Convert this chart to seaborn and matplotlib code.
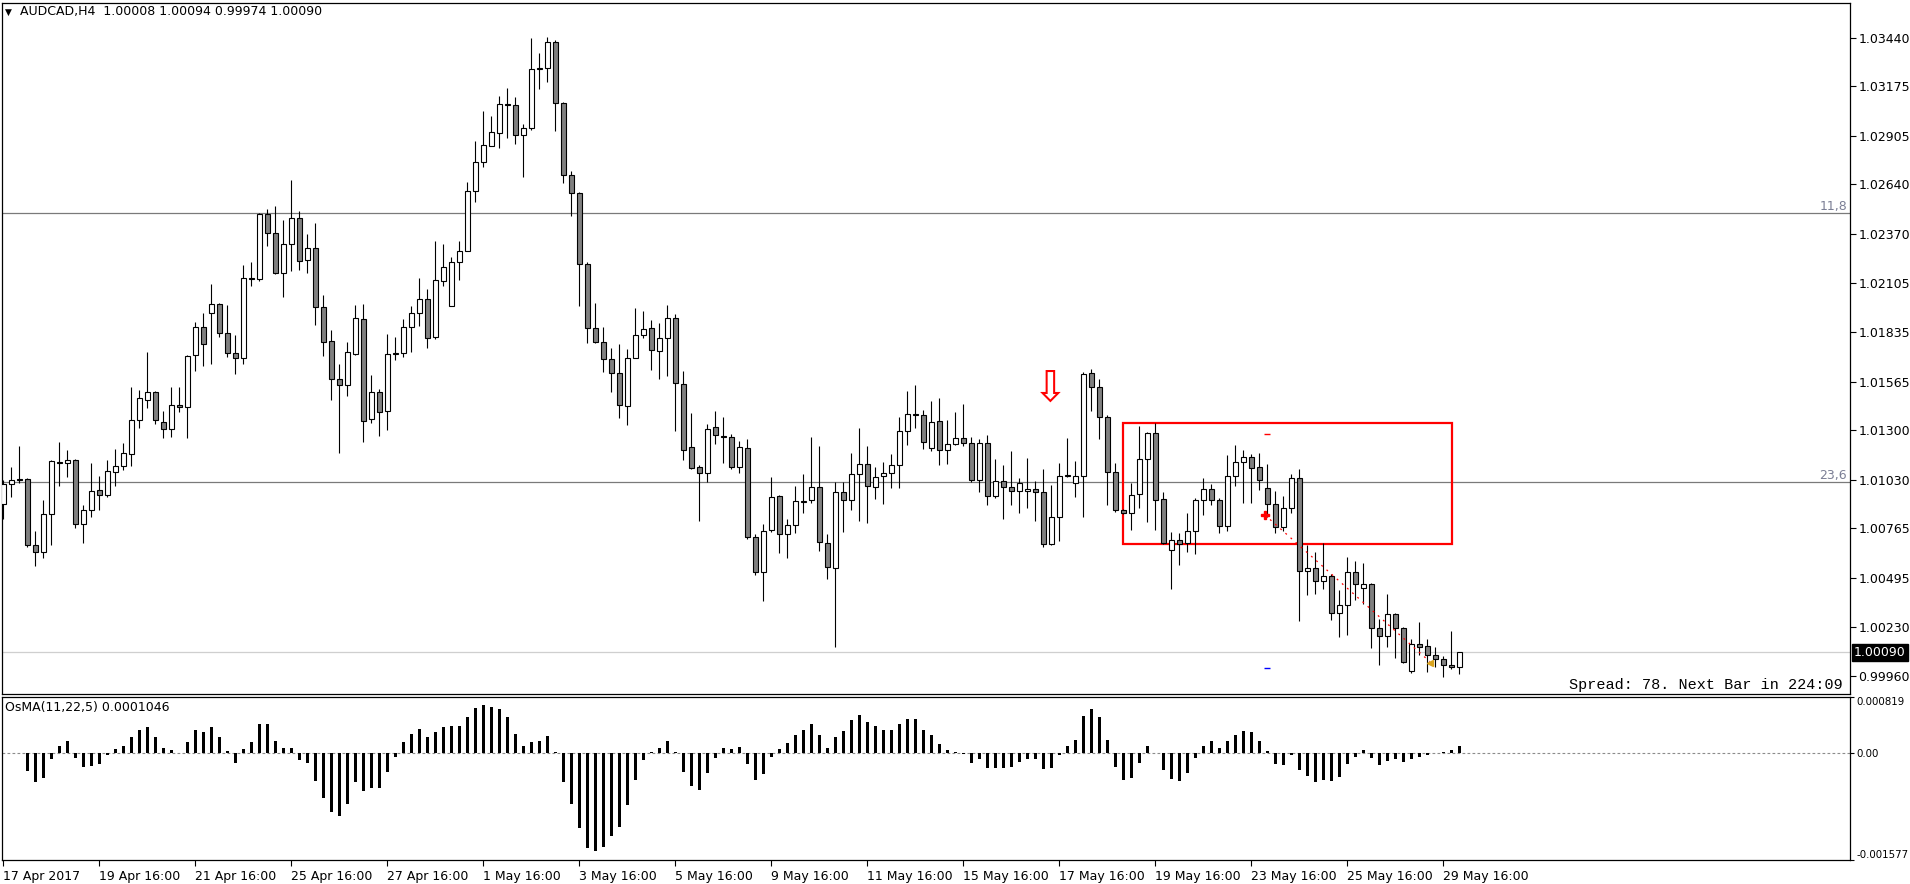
import numpy as np
import pandas as pd
import matplotlib
matplotlib.use("Agg")
import matplotlib.pyplot as plt
import matplotlib.transforms as mtransforms
from matplotlib.patches import Rectangle
import seaborn as sns

# ---------------- data ----------------
opens = [
    1.00898, 1.01007, 1.01034, 1.01034, 1.00674, 1.00636, 1.00843, 1.01125, 1.01121, 1.01137,
    1.00789, 1.00865, 1.00974, 1.00947, 1.01072, 1.01105, 1.01170, 1.01355, 1.01464, 1.01508,
    1.01344, 1.01306, 1.01437, 1.01426, 1.01710, 1.01862, 1.01939, 1.01988, 1.01830, 1.01721,
    1.01693, 1.02129, 1.02125, 1.02480, 1.02375, 1.02157, 1.02315, 1.02456, 1.02231, 1.02293,
    1.01971, 1.01786, 1.01579, 1.01546, 1.01715, 1.01906, 1.01361, 1.01508, 1.01408, 1.01718,
    1.01722, 1.01862, 1.01939, 1.02015, 1.01808, 1.02113, 1.01977, 1.02217, 1.02276, 1.02603,
    1.02761, 1.02849, 1.02919, 1.03078, 1.03072, 1.02909, 1.02947, 1.03268, 1.03274, 1.03415,
    1.03083, 1.02691, 1.02592, 1.02206, 1.01857, 1.01780, 1.01688, 1.01611, 1.01432, 1.01693,
    1.01819, 1.01857, 1.01730, 1.01802, 1.01911, 1.01552, 1.01208, 1.01099, 1.01066, 1.01317,
    1.01270, 1.01266, 1.01099, 1.01203, 1.00721, 1.00530, 1.00756, 1.00941, 1.00737, 1.00783,
    1.00912, 1.00919, 1.00990, 1.00685, 1.00549, 1.00963, 1.00919, 1.01061, 1.01116, 1.00990,
    1.01050, 1.01066, 1.01110, 1.01295, 1.01388, 1.01382, 1.01203, 1.01350, 1.01192, 1.01225,
    1.01257, 1.01230, 1.01028, 1.01230, 1.00941, 1.01023, 1.00990, 1.00968, 1.00968, 1.00979,
    1.00963, 1.00680, 1.00827, 1.01050, 1.01012, 1.01050, 1.01611, 1.01535, 1.01372, 1.01072,
    1.00865, 1.00848, 1.00952, 1.01143, 1.01285, 1.00925, 1.00647, 1.00701, 1.00685, 1.00750,
    1.00919, 1.00979, 1.00919, 1.00778, 1.01050, 1.01126, 1.01154, 1.01099, 1.00985, 1.00898,
    1.00772, 1.00876, 1.01039, 1.00532, 1.00549, 1.00478, 1.00505, 1.00304, 1.00347, 1.00527,
    1.00440, 1.00462, 1.00222, 1.00178, 1.00298, 1.00222, 0.99987, 1.00135, 1.00124, 1.00075,
    1.00053, 1.00020, 1.00008]

highs = [
    1.01030, 1.01102, 1.01215, 1.01039, 1.00752, 1.00921, 1.01139, 1.01237, 1.01194, 1.01144,
    1.00894, 1.01121, 1.01052, 1.01139, 1.01199, 1.01232, 1.01537, 1.01521, 1.01728, 1.01517,
    1.01406, 1.01537, 1.01537, 1.01711, 1.01891, 1.01940, 1.02098, 1.01995, 1.01984, 1.01820,
    1.02202, 1.02218, 1.02484, 1.02507, 1.02525, 1.02447, 1.02665, 1.02496, 1.02371, 1.02432,
    1.02038, 1.01848, 1.01662, 1.01782, 1.01984, 1.01989, 1.01602, 1.01526, 1.01826, 1.01809,
    1.01907, 1.01980, 1.02131, 1.02069, 1.02333, 1.02316, 1.02244, 1.02331, 1.02656, 1.02878,
    1.03041, 1.03014, 1.03123, 1.03166, 1.03116, 1.02970, 1.03437, 1.03357, 1.03444, 1.03428,
    1.03088, 1.02716, 1.02601, 1.02217, 1.01996, 1.01862, 1.01749, 1.01771, 1.01744, 1.01966,
    1.01953, 1.01904, 1.01885, 1.01984, 1.01935, 1.01624, 1.01395, 1.01110, 1.01334, 1.01406,
    1.01373, 1.01281, 1.01243, 1.01253, 1.00734, 1.00789, 1.01046, 1.00947, 1.00817, 1.00996,
    1.01063, 1.01264, 1.01215, 1.00734, 1.01017, 1.01017, 1.01177, 1.01313, 1.01215, 1.01101,
    1.01126, 1.01170, 1.01373, 1.01515, 1.01546, 1.01410, 1.01460, 1.01477, 1.01357, 1.01401,
    1.01444, 1.01264, 1.01252, 1.01274, 1.01143, 1.01110, 1.01187, 1.01039, 1.01150, 1.01023,
    1.01090, 1.01001, 1.01123, 1.01257, 1.01134, 1.01617, 1.01633, 1.01579, 1.01383, 1.01121,
    1.00870, 1.01012, 1.01323, 1.01290, 1.01339, 1.00963, 1.00745, 1.00740, 1.00848, 1.00930,
    1.01039, 1.01007, 1.00930, 1.01165, 1.01219, 1.01192, 1.01170, 1.01176, 1.01116, 1.00968,
    1.00941, 1.01061, 1.01088, 1.00674, 1.00636, 1.00685, 1.00516, 1.00429, 1.00609, 1.00587,
    1.00576, 1.00467, 1.00271, 1.00407, 1.00304, 1.00227, 1.00162, 1.00255, 1.00162, 1.00118,
    1.00069, 1.00205, 1.00094]

lows = [
    1.00816, 1.00939, 1.01012, 1.00663, 1.00563, 1.00606, 1.00677, 1.00999, 1.01048, 1.00770,
    1.00685, 1.00830, 1.00868, 1.00939, 1.00994, 1.01085, 1.01108, 1.01315, 1.01424, 1.01337,
    1.01260, 1.01266, 1.01402, 1.01260, 1.01626, 1.01648, 1.01662, 1.01808, 1.01697, 1.01606,
    1.01661, 1.02089, 1.02116, 1.02302, 1.02150, 1.02024, 1.02171, 1.02175, 1.02160, 1.01875,
    1.01703, 1.01466, 1.01179, 1.01489, 1.01710, 1.01235, 1.01339, 1.01268, 1.01304, 1.01682,
    1.01700, 1.01729, 1.01866, 1.01748, 1.01797, 1.02084, 1.01977, 1.02120, 1.02276, 1.02543,
    1.02737, 1.02849, 1.02838, 1.02892, 1.02860, 1.02678, 1.02936, 1.03163, 1.03197, 1.02932,
    1.02650, 1.02470, 1.01980, 1.01778, 1.01775, 1.01620, 1.01511, 1.01366, 1.01328, 1.01693,
    1.01802, 1.01628, 1.01578, 1.01598, 1.01299, 1.01141, 1.01088, 1.00808, 1.01017, 1.01228,
    1.01124, 1.01088, 1.01070, 1.00707, 1.00511, 1.00372, 1.00745, 1.00634, 1.00606, 1.00740,
    1.00852, 1.00903, 1.00645, 1.00492, 1.00121, 1.00745, 1.00866, 1.00808, 1.00794, 1.00928,
    1.00898, 1.00988, 1.00988, 1.01219, 1.01312, 1.01197, 1.01186, 1.01110, 1.01116, 1.01219,
    1.01214, 1.01017, 1.00963, 1.00892, 1.00930, 1.00815, 1.00891, 1.00848, 1.00879, 1.00808,
    1.00663, 1.00674, 1.00699, 1.01045, 1.00936, 1.00825, 1.01404, 1.01255, 1.00895, 1.00854,
    1.00845, 1.00759, 1.00876, 1.00800, 1.00756, 1.00680, 1.00434, 1.00565, 1.00636, 1.00625,
    1.00838, 1.00892, 1.00740, 1.00750, 1.00996, 1.00903, 1.00903, 1.00977, 1.00827, 1.00740,
    1.00750, 1.00848, 1.00263, 1.00402, 1.00407, 1.00434, 1.00265, 1.00173, 1.00184, 1.00374,
    1.00353, 1.00113, 1.00020, 1.00118, 1.00058, 1.00030, 0.99976, 1.00075, 0.99982, 1.00009,
    0.99955, 1.00000, 0.99974]

closes = [
    1.01007, 1.01028, 1.01030, 1.00674, 1.00636, 1.00843, 1.01132, 1.01121, 1.01137, 1.00789,
    1.00865, 1.00968, 1.00947, 1.01077, 1.01105, 1.01176, 1.01355, 1.01475, 1.01508, 1.01355,
    1.01306, 1.01437, 1.01426, 1.01706, 1.01862, 1.01770, 1.01988, 1.01830, 1.01721, 1.01693,
    1.02129, 1.02125, 1.02480, 1.02375, 1.02157, 1.02315, 1.02456, 1.02225, 1.02293, 1.01971,
    1.01779, 1.01579, 1.01546, 1.01726, 1.01911, 1.01353, 1.01508, 1.01402, 1.01715, 1.01722,
    1.01862, 1.01939, 1.02015, 1.01802, 1.02118, 1.02189, 1.02217, 1.02276, 1.02603, 1.02761,
    1.02854, 1.02925, 1.03078, 1.03072, 1.02909, 1.02947, 1.03268, 1.03274, 1.03415, 1.03083,
    1.02691, 1.02592, 1.02206, 1.01857, 1.01780, 1.01688, 1.01611, 1.01437, 1.01693, 1.01819,
    1.01851, 1.01737, 1.01802, 1.01911, 1.01557, 1.01192, 1.01094, 1.01066, 1.01306, 1.01274,
    1.01266, 1.01099, 1.01208, 1.00721, 1.00530, 1.00750, 1.00936, 1.00737, 1.00783, 1.00914,
    1.00916, 1.00990, 1.00690, 1.00554, 1.00963, 1.00919, 1.01061, 1.01116, 1.00996, 1.01045,
    1.01066, 1.01110, 1.01295, 1.01388, 1.01382, 1.01235, 1.01344, 1.01192, 1.01225, 1.01257,
    1.01230, 1.01028, 1.01230, 1.00941, 1.01023, 1.00990, 1.00968, 1.01012, 1.00979, 1.00963,
    1.00680, 1.00827, 1.01050, 1.01054, 1.01050, 1.01606, 1.01535, 1.01372, 1.01072, 1.00865,
    1.00848, 1.00947, 1.01143, 1.01285, 1.00919, 1.00685, 1.00701, 1.00683, 1.00750, 1.00919,
    1.00979, 1.00919, 1.00778, 1.01050, 1.01126, 1.01154, 1.01094, 1.01028, 1.00898, 1.00772,
    1.00876, 1.01039, 1.00532, 1.00549, 1.00478, 1.00505, 1.00304, 1.00347, 1.00527, 1.00462,
    1.00462, 1.00222, 1.00178, 1.00298, 1.00222, 1.00037, 1.00135, 1.00118, 1.00075, 1.00053,
    1.00020, 1.00008, 1.00090]

osma = [
    -0.0000097, -0.0000097, -0.0000097, -0.000266, -0.000426, -0.000368, -0.0000968, 0.0000968, 0.000169, -0.0000823,
    -0.000208, -0.000194, -0.000169, -0.0000339, 0.0000484, 0.000106, 0.000227, 0.000339, 0.000373, 0.000227,
    0.0000629, 0.0000339, -0.0000097, 0.000155, 0.000329, 0.000300, 0.000373, 0.000227, 0.0000194, -0.000145,
    0.0000484, 0.000155, 0.000421, 0.000421, 0.000169, 0.0000629, 0.0000629, -0.000106, -0.000145, -0.000411,
    -0.000668, -0.000871, -0.000934, -0.000750, -0.000426, -0.000557, -0.000523, -0.000523, -0.000281, -0.0000629,
    0.000155, 0.000281, 0.000353, 0.000227, 0.000305, 0.000373, 0.000387, 0.000387, 0.000532, 0.000658,
    0.000702, 0.000678, 0.000644, 0.000532, 0.000281, 0.000106, 0.000160, 0.000179, 0.000252, 0.0000145,
    -0.000436, -0.000750, -0.001113, -0.001394, -0.001442, -0.001379, -0.001225, -0.001094, -0.000765, -0.000397,
    -0.000106, 0.0000048, 0.0000726, 0.000179, 0.0000097, -0.000281, -0.000484, -0.000542, -0.000300, -0.0000823,
    0.0000726, 0.0000484, 0.0000871, -0.000169, -0.000397, -0.000315, -0.0000629, 0.0000484, 0.000145, 0.000266,
    0.000339, 0.000426, 0.000266, 0.0000629, 0.000227, 0.000315, 0.000474, 0.000557, 0.000450, 0.000397,
    0.000334, 0.000329, 0.000426, 0.000494, 0.000494, 0.000339, 0.000266, 0.000121, 0.0000339, 0.0000097,
    -0.0000145, -0.000145, -0.0000968, -0.000232, -0.000232, -0.000218, -0.000208, -0.000136, -0.0000968, -0.0000968,
    -0.000242, -0.000232, -0.0000387, 0.000106, 0.000194, 0.000542, 0.000644, 0.000528, 0.000194, -0.000208,
    -0.000397, -0.000368, -0.000145, 0.000106, -0.0000048, -0.000252, -0.000387, -0.000411, -0.000300, -0.0000823,
    0.000106, 0.000169, 0.0000726, 0.000169, 0.000266, 0.000324, 0.000300, 0.000179, 0.0000242, -0.000169,
    -0.000184, -0.0000387, -0.000252, -0.000339, -0.000426, -0.000402, -0.000411, -0.000363, -0.000169, -0.0000629,
    0.0000339, -0.0000823, -0.000179, -0.000121, -0.0000968, -0.000136, -0.0000968, -0.0000629, -0.0000387, -0.0000097,
    0.0000145, 0.0000339, 0.0001046]

price_ticks = [1.03440, 1.03175, 1.02905, 1.02640, 1.02370, 1.02105, 1.01835,
               1.01565, 1.01300, 1.01030, 1.00765, 1.00495, 1.00230, 0.99960]
osma_ticks = [0.000819, 0.0, -0.001577]
osma_tick_labels = ["0.000819", "0.00", "-0.001577"]
date_bars = [0, 12, 24, 36, 48, 60, 72, 84, 96, 108, 120, 132, 144, 156, 168, 180]
date_labels = ["17 Apr 2017", "19 Apr 16:00", "21 Apr 16:00", "25 Apr 16:00",
               "27 Apr 16:00", "1 May 16:00", "3 May 16:00", "5 May 16:00",
               "9 May 16:00", "11 May 16:00", "15 May 16:00", "17 May 16:00",
               "19 May 16:00", "23 May 16:00", "25 May 16:00", "29 May 16:00"]
fib_levels = [1.02482, 1.01016]
fib_names = ["11,8", "23,6"]
bid_price = 1.00090
box_bars = [139.9, 181.05]
box_prices = [1.00679, 1.01342]
arrow_bar, arrow_price = 130.9, 1.01528
red_mark = (157.95, 1.01280)
blue_mark = (157.95, 1.00003)
trend_bars = [157.7, 178.3]
trend_prices = [1.00839, 1.00040]

n = len(opens)
assert len(highs) == n and len(lows) == n and len(closes) == n and len(osma) == n, \
    (len(opens), len(highs), len(lows), len(closes), len(osma))

o = np.array(opens); h = np.array(highs); l = np.array(lows); c = np.array(closes)
x = np.arange(n)

# ---------------- style ----------------
sns.set_style("white")
plt.rcParams['font.family'] = ['DejaVu Sans']
FS = 9

W, H = 1910, 884
fig = plt.figure(figsize=(W / 100, H / 100), dpi=100)
fig.patch.set_facecolor('white')


def rect(lft, top, rgt, bot):
    return [lft / W, 1 - bot / H, (rgt - lft) / W, (bot - top) / H]


ax = fig.add_axes(rect(2, 3, 1850, 694))
ax2 = fig.add_axes(rect(2, 697, 1850, 860))

x0 = -1.3 / 8.0
x1 = x0 + 1848 / 8.0

# ---------------- main candle panel ----------------
ax.vlines(x, l, h, color='black', linewidth=0.8, zorder=3)
bull = c >= o
body_bottom = np.minimum(o, c)
body_h = np.maximum(np.abs(c - o), 0.00003)
ax.bar(x, body_h, bottom=body_bottom, width=0.55,
       color=np.where(bull, 'white', '#808080'), edgecolor='black',
       linewidth=0.8, zorder=4)

blend = mtransforms.blended_transform_factory(ax.transAxes, ax.transData)
for lev, name in zip(fib_levels, fib_names):
    ax.axhline(lev, color='#7a7a7a', linewidth=0.9, zorder=1)
    ax.text(0.9985, lev + 0.00004, name, transform=blend,
            ha='right', va='bottom', fontsize=FS, color='#7b7f95')

ax.axhline(bid_price, color='#cfcfcf', linewidth=0.9, zorder=1)

ax.add_patch(Rectangle((box_bars[0], box_prices[0]), box_bars[1] - box_bars[0],
                       box_prices[1] - box_prices[0], fill=False,
                       edgecolor='#ff0000', linewidth=1.6, zorder=2))

ax.text(arrow_bar, arrow_price, '\u21e9', color='#ff0000', fontsize=30,
        ha='center', va='center', zorder=6)

ax.hlines(red_mark[1], red_mark[0] - 0.42, red_mark[0] + 0.42, color='#ff0000', linewidth=1.0, zorder=5)
ax.hlines(blue_mark[1], blue_mark[0] - 0.42, blue_mark[0] + 0.42, color='#0000ff', linewidth=1.0, zorder=5)

trend = pd.DataFrame({'bar': trend_bars, 'price': trend_prices})
sns.lineplot(data=trend, x='bar', y='price', ax=ax, color='#ff0000',
             linewidth=0.9, linestyle=(0, (1.5, 4)), zorder=5)
ax.plot(trend_bars[0], trend_prices[0] + 0.00002, marker='P', color='#ff0000',
        markersize=6, zorder=6)
ax.plot(trend_bars[1], trend_prices[1] - 0.0001, marker='<', color='#daa520',
        markersize=5, zorder=6)

ax.set_xlim(x0, x1)
ax.set_ylim(0.99863, 1.03629)
ax.set_xlabel('')
ax.set_ylabel('')
ax.set_xticks([])
ax.yaxis.tick_right()
ax.set_yticks(price_ticks)
ax.set_yticklabels([f"{p:.5f}" for p in price_ticks])
ax.tick_params(axis='y', direction='out', length=4, width=0.8, pad=2,
               labelsize=FS, colors='black', right=True, left=False)

ax.text(1.0 + 4 / 1848, bid_price, '1.00090', transform=blend,
        ha='left', va='center', fontsize=FS, color='white', zorder=10,
        bbox=dict(facecolor='black', edgecolor='black', boxstyle='square,pad=0.15'),
        clip_on=False)

# ---------------- OsMA panel ----------------
osma_df = pd.DataFrame({'bar': x, 'osma': osma})
sns.barplot(data=osma_df, x='bar', y='osma', native_scale=True, color='black',
            saturation=1, width=0.34, linewidth=0, errorbar=None, ax=ax2)
ax2.axhline(0, color='#8c8c8c', linewidth=0.8, linestyle=(0, (2.5, 2)), zorder=0)
ax2.set_xlim(x0, x1)
ax2.set_ylim(-0.001577, 0.000819)
ax2.set_xlabel('')
ax2.set_ylabel('')
ax2.yaxis.tick_right()
ax2.set_yticks(osma_ticks)
ax2.set_yticklabels(osma_tick_labels)
ax2.tick_params(axis='y', direction='out', length=3, width=0.8, pad=1.5,
                labelsize=7.4, colors='black', right=True, left=False)
ylabs = ax2.get_yticklabels()
ylabs[0].set_va('top')
ylabs[2].set_va('bottom')
ax2.set_xticks(date_bars)
ax2.set_xticklabels(date_labels)
ax2.tick_params(axis='x', direction='out', length=4, width=0.8, pad=3,
                labelsize=FS, colors='black', bottom=True)
for lab in ax2.get_xticklabels():
    lab.set_horizontalalignment('left')

for a in (ax, ax2):
    for s in a.spines.values():
        s.set_visible(True)
        s.set_color('black')
        s.set_linewidth(0.9)
    a.set_facecolor('white')
    a.grid(False)

# ---------------- texts ----------------
fig.text(5 / W, 1 - 12 / H, '\u25bc', fontsize=6.5, va='center', ha='left', color='black')
fig.text(20 / W, 1 - 12 / H, 'AUDCAD,H4  1.00008 1.00094 0.99974 1.00090',
         fontsize=FS, va='center', ha='left', color='black')
fig.text(1843 / W, 1 - 685 / H, 'Spread: 78. Next Bar in 224:09',
         family='Liberation Mono', fontsize=10.9, va='center', ha='right', color='black')
fig.text(5 / W, 1 - 707 / H, 'OsMA(11,22,5) 0.0001046', fontsize=FS,
         va='center', ha='left', color='black')

fig.savefig('out.png', dpi=100, facecolor='white')
